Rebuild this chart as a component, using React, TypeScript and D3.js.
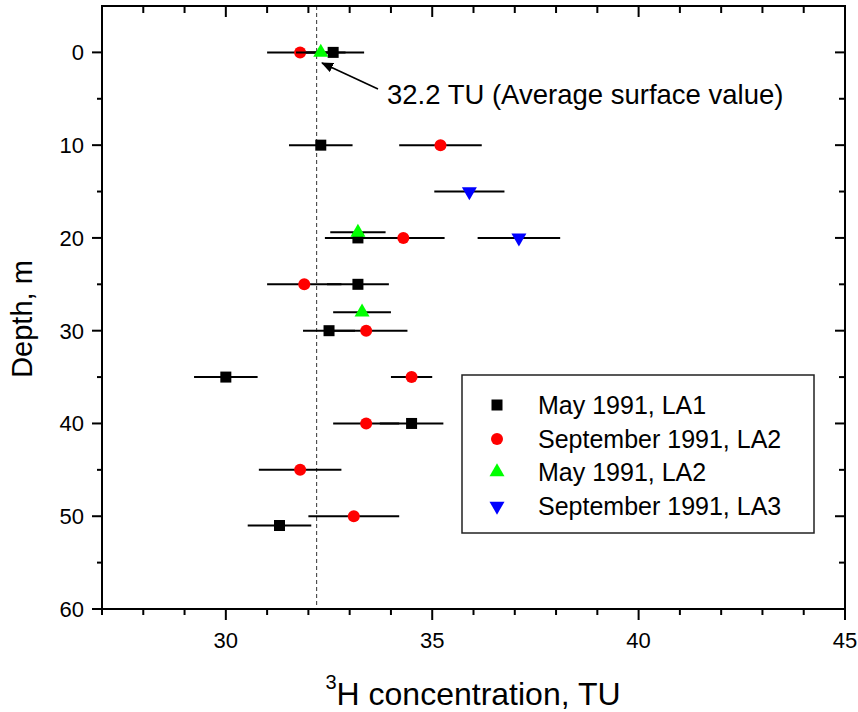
import React from "react";
import * as d3 from "d3";

// ---- data ----
const la1MayDepth = [0, 10, 20, 25, 30, 35, 40, 51];
const la1MayTU = [32.6, 32.3, 33.2, 33.2, 32.5, 30.0, 34.5, 31.3];
const la1MayErr = [0.75, 0.77, 0.8, 0.75, 0.63, 0.77, 0.77, 0.77];

const la2SepDepth = [0, 10, 20, 25, 30, 35, 40, 45, 50];
const la2SepTU = [31.8, 35.2, 34.3, 31.9, 33.4, 34.5, 33.4, 31.8, 33.1];
const la2SepErr = [0.8, 1.0, 1.0, 0.9, 1.0, 0.5, 0.8, 1.0, 1.1];

const la2MayDepth = [0, 19.4, 28];
const la2MayTU = [32.3, 33.2, 33.3];
const la2MayErr = [0.6, 0.67, 0.7];

const la3SepDepth = [15, 20];
const la3SepTU = [35.9, 37.1];
const la3SepErr = [0.85, 1.0];

const seriesNames = ["May 1991, LA1", "September 1991, LA2", "May 1991, LA2", "September 1991, LA3"];
const seriesColors = ["#000000", "#ff0000", "#00ff00", "#0000ff"];
const seriesShapes = ["square", "circle", "triangle", "triangleDown"];

const xMajorTicks = [30, 35, 40, 45];
const yMajorTicks = [0, 10, 20, 30, 40, 50, 60];
const surfaceAvg = 32.2;
const annotation = "32.2 TU (Average surface value)";

const W = 858;
const H = 712;
const FONT = "'Liberation Sans', Arial, Helvetica, sans-serif";

const x = d3.scaleLinear().domain([27, 45]).range([102, 845]);
const y = d3.scaleLinear().domain([-5, 60]).range([6, 609]);

function Marker({ shape, cx, cy, color }: { shape: string; cx: number; cy: number; color: string }) {
  if (shape === "square") {
    return <rect x={cx - 5.5} y={cy - 5.5} width={11} height={11} fill={color} />;
  }
  if (shape === "circle") {
    return <circle cx={cx} cy={cy} r={6} fill={color} />;
  }
  const hw = 7.5;
  const h = 13;
  if (shape === "triangle") {
    const pts = `${cx},${cy - (2 * h) / 3} ${cx - hw},${cy + h / 3} ${cx + hw},${cy + h / 3}`;
    return <polygon points={pts} fill={color} />;
  }
  const pts = `${cx},${cy + (2 * h) / 3} ${cx - hw},${cy - h / 3} ${cx + hw},${cy - h / 3}`;
  return <polygon points={pts} fill={color} />;
}

export default function App() {
  const series = [
    { d: la1MayDepth, v: la1MayTU, e: la1MayErr },
    { d: la2SepDepth, v: la2SepTU, e: la2SepErr },
    { d: la2MayDepth, v: la2MayTU, e: la2MayErr },
    { d: la3SepDepth, v: la3SepTU, e: la3SepErr },
  ];
  const xMinor = d3.range(27, 46, 1).filter((t) => !xMajorTicks.includes(t));
  const yMinor = d3.range(5, 60, 10);
  const [left, right] = x.range();
  const [top, bottom] = y.range();

  const legendX = 462;
  const legendY = 375;
  const rowYs = [405, 439, 472, 506];

  return (
    <svg
      width={W}
      height={H}
      style={{ position: "absolute", left: 0, top: 0, display: "block", background: "#fff" }}
      fontFamily={FONT}
    >
      <defs>
        <marker id="arrowHead" viewBox="0 0 12 10" refX="11" refY="5" markerWidth="12" markerHeight="10" markerUnits="userSpaceOnUse" orient="auto">
          <path d="M0,0 L12,5 L0,10 z" fill="#000" />
        </marker>
      </defs>

      {/* dashed reference line */}
      <line x1={x(surfaceAvg)} x2={x(surfaceAvg)} y1={top} y2={bottom} stroke="#333" strokeWidth={1} strokeDasharray="4,3" />

      {/* data */}
      {series.map((s, si) => (
        <g key={si}>
          {s.d.map((dep, i) => (
            <line
              key={"e" + i}
              x1={x(s.v[i] - s.e[i])}
              x2={x(s.v[i] + s.e[i])}
              y1={y(dep)}
              y2={y(dep)}
              stroke="#000"
              strokeWidth={2}
            />
          ))}
          {s.d.map((dep, i) => (
            <Marker key={"m" + i} shape={seriesShapes[si]} cx={x(s.v[i])} cy={y(dep)} color={seriesColors[si]} />
          ))}
        </g>
      ))}

      {/* annotation arrow */}
      <line x1={378} y1={89} x2={322} y2={63} stroke="#000" strokeWidth={1.6} markerEnd="url(#arrowHead)" />
      <text x={387} y={104} fontSize={27.5} fill="#000">{annotation}</text>

      {/* frame */}
      <rect x={left} y={top} width={right - left} height={bottom - top} fill="none" stroke="#000" strokeWidth={2} />

      {/* bottom ticks (outward) & top ticks (inward) */}
      {xMajorTicks.map((t) => (
        <g key={"xm" + t}>
          <line x1={x(t)} x2={x(t)} y1={bottom} y2={bottom + 11} stroke="#000" strokeWidth={2} />
          <line x1={x(t)} x2={x(t)} y1={top} y2={top + 11} stroke="#000" strokeWidth={2} />
          <text x={x(t)} y={bottom + 39} fontSize={22} textAnchor="middle" fill="#000">{t}</text>
        </g>
      ))}
      {xMinor.map((t) => (
        <g key={"xn" + t}>
          <line x1={x(t)} x2={x(t)} y1={bottom} y2={bottom + 6} stroke="#000" strokeWidth={2} />
          <line x1={x(t)} x2={x(t)} y1={top} y2={top + 7} stroke="#000" strokeWidth={2} />
        </g>
      ))}

      {/* left ticks (outward) & right ticks (inward) */}
      {yMajorTicks.map((t) => (
        <g key={"ym" + t}>
          <line x1={left - 10} x2={left} y1={y(t)} y2={y(t)} stroke="#000" strokeWidth={2} />
          <line x1={right - 10} x2={right} y1={y(t)} y2={y(t)} stroke="#000" strokeWidth={2} />
          <text x={left - 18} y={y(t) + 8} fontSize={22} textAnchor="end" fill="#000">{t}</text>
        </g>
      ))}
      {yMinor.map((t) => (
        <g key={"yn" + t}>
          <line x1={left - 5} x2={left} y1={y(t)} y2={y(t)} stroke="#000" strokeWidth={2} />
          <line x1={right - 6} x2={right} y1={y(t)} y2={y(t)} stroke="#000" strokeWidth={2} />
        </g>
      ))}

      {/* axis titles */}
      <text x={473} y={705} fontSize={32} textAnchor="middle" fill="#000">
        <tspan fontSize={20} dy={-16}>3</tspan>
        <tspan dy={16}>H concentration, TU</tspan>
      </text>
      <text transform="translate(32,319) rotate(-90)" fontSize={29} textAnchor="middle" fill="#000">Depth, m</text>

      {/* legend */}
      <rect x={legendX} y={legendY} width={352} height={158} fill="#fff" stroke="#222" strokeWidth={1.5} />
      {seriesNames.map((name, i) => (
        <g key={"lg" + i}>
          <Marker shape={seriesShapes[i]} cx={497} cy={rowYs[i]} color={seriesColors[i]} />
          <text x={538} y={rowYs[i] + 9} fontSize={25} fill="#000">{name}</text>
        </g>
      ))}
    </svg>
  );
}
